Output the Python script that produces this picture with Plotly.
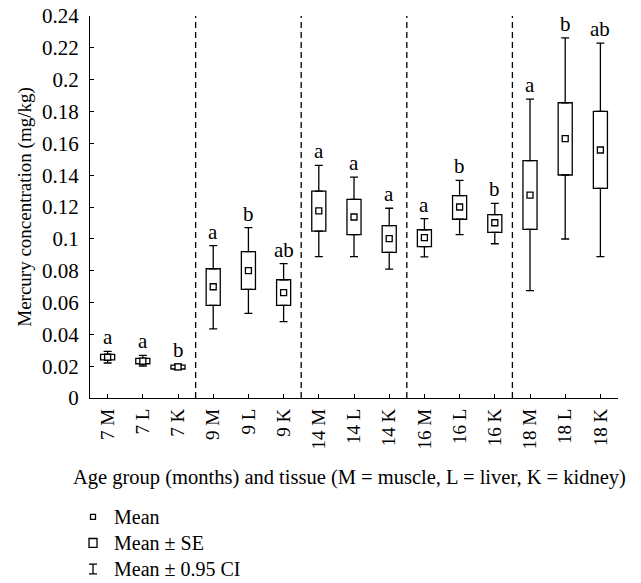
import plotly.graph_objects as go

categories = ["7 M", "7 L", "7 K", "9 M", "9 L", "9 K", "14 M", "14 L", "14 K",
              "16 M", "16 L", "16 K", "18 M", "18 L", "18 K"]
mean = [0.0256, 0.0232, 0.0195, 0.0699, 0.0800, 0.0662, 0.1175, 0.1137, 0.1001,
        0.1007, 0.1200, 0.1101, 0.1275, 0.1629, 0.1558]
se_low = [0.0239, 0.0215, 0.0182, 0.0582, 0.0683, 0.0582, 0.1049, 0.1026, 0.0915,
          0.0951, 0.1123, 0.1041, 0.1060, 0.1401, 0.1317]
se_high = [0.0274, 0.0249, 0.0207, 0.0812, 0.0919, 0.0743, 0.1300, 0.1248, 0.1083,
           0.1057, 0.1271, 0.1152, 0.1491, 0.1855, 0.1801]
ci_low = [0.0220, 0.0201, 0.0178, 0.0434, 0.0532, 0.0480, 0.0888, 0.0888, 0.0810,
          0.0886, 0.1026, 0.0969, 0.0674, 0.0999, 0.0888]
ci_high = [0.0293, 0.0268, 0.0213, 0.0957, 0.1070, 0.0844, 0.1462, 0.1388, 0.1192,
           0.1127, 0.1367, 0.1223, 0.1878, 0.2262, 0.2230]
letters = ["a", "a", "b", "a", "b", "ab", "a", "a", "a", "a", "b", "b", "a", "b", "ab"]
group_breaks = [2.5, 5.5, 8.5, 11.5]
y_ticks = [0, 0.02, 0.04, 0.06, 0.08, 0.1, 0.12, 0.14, 0.16, 0.18, 0.2, 0.22, 0.24]
y_ticktext = ["0", "0.02", "0.04", "0.06", "0.08", "0.1", "0.12", "0.14", "0.16",
              "0.18", "0.2", "0.22", "0.24"]
legend_labels = ["Mean", "Mean \u00b1 SE", "Mean \u00b1 0.95 CI"]
x_title = "Age group (months) and tissue (M = muscle, L = liver, K = kidney)"
y_title = "Mercury concentration (mg/kg)"

FONT = "Liberation Serif"
FS_H = 21   # horizontal text
FS_V = 19   # rotated text
LW = 1.3

fig = go.Figure()

# SE boxes
fig.add_trace(go.Bar(
    x=categories, y=[h - l for h, l in zip(se_high, se_low)], base=se_low,
    width=0.4, marker=dict(color="white", line=dict(color="black", width=LW)),
    showlegend=False, hoverinfo="skip"))

# upper whiskers
fig.add_trace(go.Scatter(
    x=categories, y=se_high, mode="markers",
    marker=dict(size=1, color="rgba(0,0,0,0)"),
    error_y=dict(type="data", symmetric=False,
                 array=[c - s for c, s in zip(ci_high, se_high)],
                 arrayminus=[0] * len(categories),
                 color="black", thickness=LW, width=4),
    showlegend=False, hoverinfo="skip"))
# lower whiskers
fig.add_trace(go.Scatter(
    x=categories, y=se_low, mode="markers",
    marker=dict(size=1, color="rgba(0,0,0,0)"),
    error_y=dict(type="data", symmetric=False,
                 array=[0] * len(categories),
                 arrayminus=[s - c for s, c in zip(se_low, ci_low)],
                 color="black", thickness=LW, width=4),
    showlegend=False, hoverinfo="skip"))

# means
fig.add_trace(go.Scatter(
    x=categories, y=mean, mode="markers",
    marker=dict(symbol="square", size=6, color="white",
                line=dict(color="black", width=LW)),
    showlegend=False, hoverinfo="skip"))

# group separators
for b in group_breaks:
    fig.add_shape(type="line", xref="x", yref="y", x0=b, x1=b, y0=0, y1=0.24,
                  line=dict(color="black", width=LW, dash="6px,4px"))

# significance letters
for c, top, t in zip(categories, ci_high, letters):
    fig.add_annotation(x=c, y=top, xref="x", yref="y", text=t, showarrow=False,
                       yanchor="bottom", yshift=0,
                       font=dict(family=FONT, size=FS_H, color="black"))

# x-axis title
fig.add_annotation(x=0.5576, y=0.1797, xref="paper", yref="paper", text=x_title,
                   showarrow=False, xanchor="center", yanchor="middle",
                   font=dict(family=FONT, size=20.5, color="black"))

# custom legend on secondary axes
leg_rows = [2, 1, 0]
leg_x = 93
fig.add_trace(go.Scatter(
    x=[leg_x], y=[leg_rows[0]], mode="markers", xaxis="x2", yaxis="y2",
    marker=dict(symbol="square", size=5, color="white",
                line=dict(color="black", width=LW)),
    showlegend=False, hoverinfo="skip"))
fig.add_trace(go.Bar(
    x=[leg_x], y=[0.34], base=[leg_rows[1] - 0.17], width=8, xaxis="x2", yaxis="y2",
    marker=dict(color="white", line=dict(color="black", width=LW)),
    showlegend=False, hoverinfo="skip"))
fig.add_trace(go.Scatter(
    x=[leg_x], y=[leg_rows[2]], mode="markers", xaxis="x2", yaxis="y2",
    marker=dict(size=1, color="rgba(0,0,0,0)"),
    error_y=dict(type="data", array=[0.19], color="black", thickness=LW, width=4),
    showlegend=False, hoverinfo="skip"))
for r, t in zip(leg_rows, legend_labels):
    fig.add_annotation(x=leg_x + 19, y=r, xref="x2", yref="y2", text=t,
                       showarrow=False, xanchor="left", yanchor="middle",
                       font=dict(family=FONT, size=20, color="black"))

fig.update_layout(
    width=641, height=583,
    margin=dict(l=10, r=23, t=16, b=5),
    paper_bgcolor="white", plot_bgcolor="white",
    font=dict(family=FONT, size=FS_H, color="black"),
    showlegend=False,
    xaxis=dict(domain=[0.1316, 1], type="category", categoryorder="array",
               categoryarray=categories, range=[-0.5, 14.5],
               showline=True, linecolor="black", linewidth=LW,
               ticks="inside", ticklen=4, tickcolor="black", tickwidth=1,
               tickangle=-90, showgrid=False, zeroline=False,
               tickfont=dict(family=FONT, size=FS_V), ticklabelstandoff=2,
               automargin=False, anchor="y"),
    yaxis=dict(domain=[0.3203, 1], range=[0, 0.24],
               tickvals=y_ticks, ticktext=y_ticktext,
               showline=True, linecolor="black", linewidth=LW,
               ticks="inside", ticklen=4, tickcolor="black", tickwidth=1,
               showgrid=False, zeroline=False,
               tickfont=dict(family=FONT, size=FS_H), ticklabelstandoff=6,
               ticklabeloverflow="allow",
               automargin=False,
               title=dict(text=y_title, font=dict(family=FONT, size=FS_V), standoff=5),
               anchor="x"),
    xaxis2=dict(domain=[0, 1], range=[10, 618], visible=False, anchor="y2",
                automargin=False),
    yaxis2=dict(domain=[0, 0.139], range=[-0.346, 2.654], visible=False, anchor="x2",
                automargin=False),
)

fig.write_html("out.html", config={"displayModeBar": False},
               post_script="document.body.style.margin='0px';")
